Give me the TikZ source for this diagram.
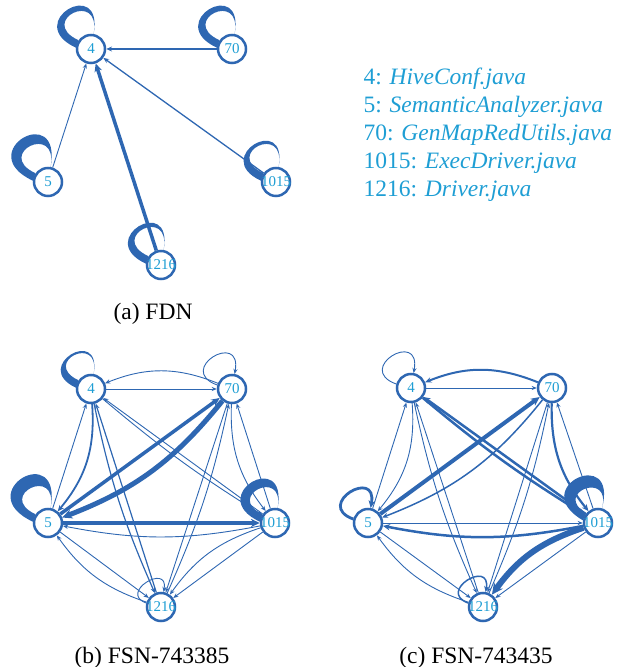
\documentclass[tikz,border=0pt]{standalone}
\usepackage{fontspec}
\setmainfont{Liberation Serif}
\usetikzlibrary{arrows.meta,backgrounds}
\definecolor{edgeblue}{RGB}{46,103,178}
\definecolor{labelblue}{RGB}{30,158,212}
\tikzset{
  vertex/.style={circle, draw=edgeblue, fill=white, line width=2.5pt,
                 minimum size=28pt, inner sep=0pt,
                 label={[text=labelblue, inner sep=0pt,
                         font=\fontsize{15}{15}\selectfont]center:#1}},
  link/.style={draw=edgeblue, line width=#1,
               -{Stealth[length=4pt 1.2, width=3pt 1.3]}},
  link/.default={0.9pt},
  legend/.style={anchor=base west, text=labelblue,
                 font=\fontsize{23.5}{28}\selectfont},
  caption/.style={anchor=base, font=\fontsize{23.5}{28}\selectfont},
}
% tapered self loop: node, outer size, inner size, [turn]
\newcommand{\fatloop}[4][0]{%
  \fill[edgeblue] (#2.\number\numexpr175+#1\relax)
    .. controls +({155+#1}:#3) and +({80+#1}:#3) .. (#2.\number\numexpr80+#1\relax)
    .. controls +({80+#1}:#4) and +({155+#1}:#4) .. (#2.\number\numexpr145+#1\relax)
    -- cycle;}
% thin self loop with arrow: node, size, [width]
\newcommand{\thinloop}[3][0.9pt]{%
  \draw[link=#1] (#2.165) .. controls +(160:#3) and +(80:#3) .. (#2.80);}

\begin{document}
\begin{tikzpicture}[x=1pt, y=1pt]
  \useasboundingbox (0,0) rectangle (622,667);

  % (a) FDN
  \node[vertex=4]    (a4)    at (91,618)  {};
  \node[vertex=70]   (a70)   at (232,618) {};
  \node[vertex=5]    (a5)    at (48,485)  {};
  \node[vertex=1015] (a1015) at (276,485) {};
  \node[vertex=1216] (a1216) at (161,402) {};
  \node[caption] (capa) at (153,347) {(a) FDN};

  % legend
  \node[legend] (l4)    at (360,582) {4: \textit{HiveConf.java}};
  \node[legend] (l5)    at (360,554) {5: \textit{SemanticAnalyzer.java}};
  \node[legend] (l70)   at (360,526) {70: \textit{GenMapRedUtils.java}};
  \node[legend] (l1015) at (360,498) {1015: \textit{ExecDriver.java}};
  \node[legend] (l1216) at (360,470) {1216: \textit{Driver.java}};

  % (b) FSN-743385
  \node[vertex=4]    (b4)    at (91,278)  {};
  \node[vertex=70]   (b70)   at (232,278) {};
  \node[vertex=5]    (b5)    at (48,144)  {};
  \node[vertex=1015] (b1015) at (275,144) {};
  \node[vertex=1216] (b1216) at (161,60)  {};
  \node[caption] (capb) at (152,4) {(b) FSN-743385};

  % (c) FSN-743435
  \node[vertex=4]    (c4)    at (411,279) {};
  \node[vertex=70]   (c70)   at (552,279) {};
  \node[vertex=5]    (c5)    at (368,144) {};
  \node[vertex=1015] (c1015) at (598,144) {};
  \node[vertex=1216] (c1216) at (483,60)  {};
  \node[caption] (capc) at (476,4) {(c) FSN-743435};

  \begin{pgfonlayer}{background}
    % (a)
    \fatloop{a4}{60}{46}
    \fatloop{a70}{60}{46}
    \fatloop{a5}{68}{46}
    \fatloop{a1015}{56}{46}
    \fatloop{a1216}{58}{46}
    \draw[link=1.5pt] (a70) -- (a4);
    \draw[link] (a5) -- (a4);
    \draw[link=3.5pt] (a1216) -- (a4);
    \draw[link=1.3pt] (a1015) -- (a4);

    % (b)
    \fatloop{b4}{50}{42}
    \thinloop{b70}{45}
    \fatloop{b5}{70}{44}
    \fatloop{b1015}{62}{42}
    \thinloop{b1216}{30}
    \draw[link] (b4) -- (b70);
    \draw[link] (b70) to[bend right=22] (b4);
    \draw[link] (b5) -- (b4);
    \draw[link=1.8pt] (b4) to[bend left=22] (b5);
    \draw[link] (b1015) -- (b4);
    \draw[link] (b4) to[bend right=4] (b1015);
    \draw[link=1.2pt] (b1216) -- (b4);
    \draw[link=1.2pt] (b4) to[bend right=6] (b1216);
    \draw[link=3.5pt] (b5) -- (b70);
    \draw[link=5pt] (b70) to[bend left=15] (b5);
    \draw[link] (b1015) -- (b70);
    \draw[link] (b70) to[bend right=20] (b1015);
    \draw[link] (b70) -- (b1216);
    \draw[link] (b1216) to[bend right=6] (b70);
    \draw[link=4pt] (b5) -- (b1015);
    \draw[link] (b1015) to[bend left=11] (b5);
    \draw[link] (b5) -- (b1216);
    \draw[link] (b1216) to[bend left=18] (b5);
    \draw[link] (b1015) -- (b1216);
    \draw[link] (b1015) to[bend right=18] (b1216);

    % (c)
    \thinloop{c4}{45}
    \thinloop[2.8pt]{c5}{42}
    \fatloop[-5]{c1015}{66}{40}
    \thinloop[1.5pt]{c1216}{34}
    \draw[link] (c4) -- (c70);
    \draw[link=2pt] (c70) to[bend right=22] (c4);
    \draw[link] (c5) -- (c4);
    \draw[link] (c4) to[bend left=22] (c5);
    \draw[link=2.5pt] (c1015) -- (c4);
    \draw[link=2.5pt] (c4) to[bend right=4] (c1015);
    \draw[link] (c1216) -- (c4);
    \draw[link] (c4) to[bend right=6] (c1216);
    \draw[link=4pt] (c5) -- (c70);
    \draw[link=1.5pt] (c70) to[bend left=15] (c5);
    \draw[link] (c1015) -- (c70);
    \draw[link=2.2pt] (c70) to[bend right=20] (c1015);
    \draw[link] (c70) -- (c1216);
    \draw[link] (c1216) to[bend right=6] (c70);
    \draw[link] (c5) -- (c1015);
    \draw[link=2.5pt] (c1015) to[bend left=11] (c5);
    \draw[link] (c5) -- (c1216);
    \draw[link] (c1216) to[bend left=18] (c5);
    \draw[link] (c1015) -- (c1216);
    \draw[link=6pt] (c1015) to[bend right=18] (c1216);
  \end{pgfonlayer}
\end{tikzpicture}
\end{document}
